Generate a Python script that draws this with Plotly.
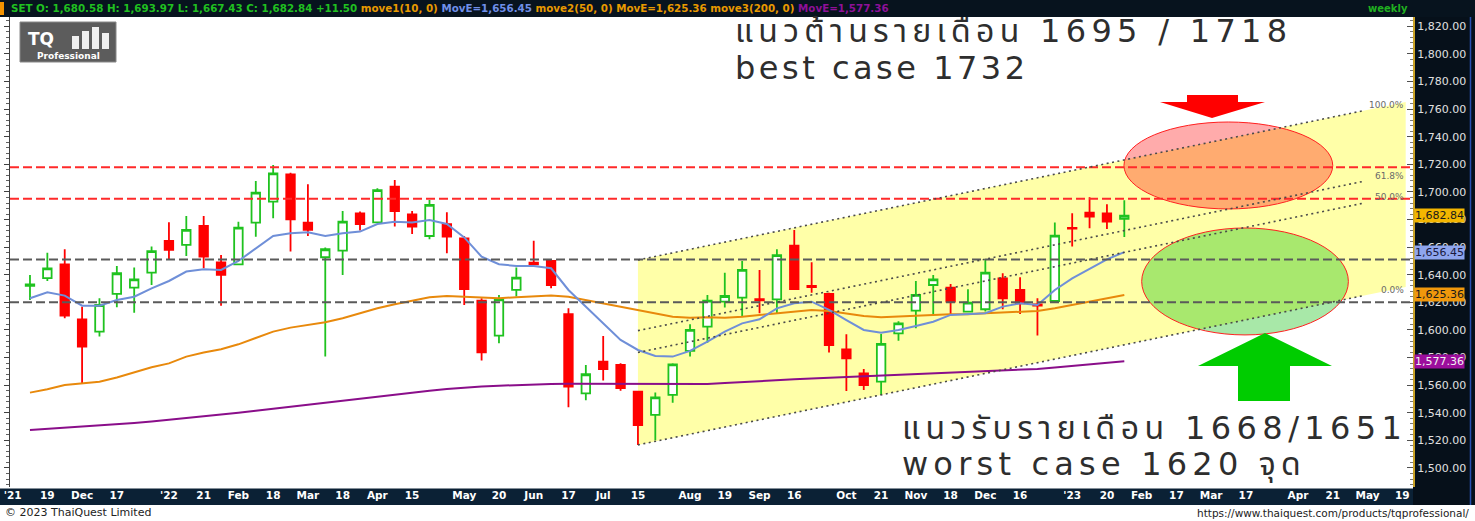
import plotly.graph_objects as go

# ---------------- data (weekly SET index) ----------------
opens = [1632.0, 1637.5, 1647.6, 1607.7, 1598.8, 1626.1, 1630.7, 1641.5, 1664.5, 1661.6,
         1675.4, 1649.0, 1647.6, 1677.8, 1693.0, 1712.8, 1677.8, 1652.7, 1657.5, 1684.5,
         1678.0, 1703.9, 1683.8, 1668.1, 1676.6, 1666.4, 1621.2, 1595.9, 1629.0, 1648.8,
         1650.0, 1611.4, 1554.1, 1577.0, 1574.6, 1555.3, 1538.4, 1552.9, 1584.8, 1602.4,
         1620.5, 1623.4, 1622.3, 1622.2, 1661.1, 1631.9, 1626.1, 1586.0, 1568.6, 1562.5,
         1597.6, 1614.0, 1632.6, 1630.7, 1613.3, 1615.0, 1637.4, 1629.0, 1618.6, 1621.0,
         1674.0, 1685.0, 1684.5, 1680.58]
highs = [1639.9, 1656.0, 1658.5, 1616.9, 1623.0, 1646.4, 1645.2, 1660.4, 1678.0, 1682.6,
         1682.6, 1654.3, 1678.5, 1708.0, 1719.6, 1714.0, 1705.6, 1659.7, 1686.2, 1685.8,
         1702.7, 1708.7, 1686.2, 1694.2, 1685.3, 1668.1, 1623.0, 1625.4, 1645.2, 1664.7,
         1651.2, 1615.7, 1574.6, 1595.7, 1575.8, 1556.0, 1554.6, 1575.8, 1604.1, 1625.4,
         1641.5, 1650.0, 1643.5, 1658.5, 1672.5, 1649.0, 1627.0, 1596.9, 1571.7, 1597.1,
         1606.3, 1635.5, 1639.9, 1633.3, 1629.5, 1651.2, 1641.1, 1638.2, 1623.0, 1677.8,
         1684.5, 1696.1, 1691.1, 1693.97]
lows = [1621.7, 1635.5, 1608.5, 1561.3, 1595.2, 1616.4, 1612.5, 1632.6, 1650.7, 1653.6,
        1644.7, 1617.6, 1647.1, 1667.6, 1680.9, 1656.8, 1668.1, 1580.7, 1639.9, 1672.0,
        1677.5, 1674.9, 1669.6, 1665.7, 1655.6, 1618.1, 1577.8, 1590.4, 1624.2, 1647.1,
        1630.2, 1544.0, 1549.0, 1563.3, 1556.0, 1516.7, 1520.0, 1547.3, 1580.7, 1590.8,
        1616.2, 1610.1, 1612.1, 1612.0, 1629.0, 1627.0, 1583.6, 1555.8, 1556.5, 1552.9,
        1592.2, 1601.2, 1611.4, 1611.6, 1612.6, 1613.3, 1615.0, 1611.6, 1596.0, 1621.0,
        1660.4, 1673.7, 1673.2, 1667.43]
closes = [1633.0, 1644.7, 1610.4, 1587.9, 1618.1, 1641.1, 1636.7, 1657.2, 1658.0, 1672.5,
          1653.1, 1639.9, 1674.1, 1699.5, 1713.5, 1680.2, 1672.5, 1658.5, 1678.5, 1676.8,
          1701.4, 1686.2, 1674.9, 1690.6, 1667.6, 1629.7, 1583.8, 1622.2, 1637.9, 1647.6,
          1632.6, 1558.9, 1567.9, 1571.7, 1557.8, 1531.0, 1551.2, 1575.1, 1600.0, 1621.2,
          1624.6, 1643.5, 1621.5, 1654.3, 1629.7, 1631.0, 1589.1, 1579.5, 1560.1, 1589.9,
          1604.8, 1625.4, 1636.7, 1620.5, 1619.8, 1641.5, 1623.0, 1619.3, 1617.6, 1668.3,
          1673.4, 1682.1, 1678.5, 1682.84]
ma10 = [1623.0, 1627.3, 1624.9, 1617.6, 1617.6, 1621.7, 1624.1, 1630.2, 1635.5, 1642.3,
        1644.0, 1643.5, 1650.0, 1659.2, 1668.1, 1670.1, 1670.8, 1668.1, 1670.1, 1671.3,
        1676.8, 1678.5, 1677.8, 1679.7, 1676.8, 1667.1, 1653.1, 1647.6, 1646.4, 1646.4,
        1644.7, 1629.0, 1616.9, 1604.9, 1592.8, 1585.5, 1581.2, 1580.7, 1584.8, 1591.5,
        1598.8, 1604.8, 1607.7, 1615.7, 1619.3, 1620.5, 1614.5, 1607.2, 1600.0, 1598.0,
        1600.0, 1602.9, 1606.0, 1610.9, 1611.4, 1612.1, 1616.9, 1619.3, 1618.1, 1629.0,
        1637.4, 1644.0, 1651.2, 1656.45]
ma50 = [1554.6, 1557.0, 1560.1, 1561.3, 1562.5, 1565.5, 1569.0, 1573.0, 1575.8, 1580.7,
        1583.6, 1586.0, 1589.6, 1594.4, 1598.8, 1601.7, 1603.6, 1605.6, 1608.5, 1612.1,
        1615.7, 1618.6, 1621.2, 1623.7, 1624.6, 1624.1, 1623.4, 1623.0, 1623.7, 1624.1,
        1624.9, 1624.1, 1621.7, 1619.3, 1616.9, 1614.5, 1611.6, 1609.6, 1608.9, 1609.2,
        1608.9, 1609.6, 1610.9, 1612.1, 1613.8, 1614.5, 1613.8, 1612.1, 1610.1, 1609.2,
        1609.6, 1610.1, 1610.9, 1611.4, 1611.4, 1612.1, 1612.6, 1613.3, 1613.8, 1615.7,
        1618.1, 1620.3, 1622.7, 1625.36]
ma200 = [1527.5, 1528.3, 1529.0, 1529.8, 1530.5, 1531.5, 1532.5, 1533.6, 1534.8, 1536.0,
         1537.5, 1538.8, 1540.0, 1541.5, 1543.0, 1544.5, 1546.0, 1547.2, 1548.5, 1550.0,
         1551.5, 1553.0, 1554.5, 1556.0, 1557.3, 1558.3, 1559.0, 1559.6, 1560.1, 1560.5,
         1560.8, 1561.0, 1561.0, 1560.9, 1560.8, 1560.7, 1560.6, 1560.6, 1560.6, 1560.8,
         1561.5, 1562.3, 1563.0, 1563.6, 1564.2, 1564.8, 1565.3, 1565.8, 1566.3, 1566.8,
         1567.3, 1567.8, 1568.3, 1568.8, 1569.3, 1569.8, 1570.3, 1571.0, 1571.8, 1572.8,
         1574.0, 1575.2, 1576.3, 1577.36]
weeks = list(range(len(closes)))

x_tick_pos = [-1, 1, 3, 5, 8, 10, 12, 14, 16, 18, 20, 22, 25, 27, 29, 31, 33, 35, 38, 40,
              42, 44, 47, 49, 51, 53, 55, 57, 60, 62, 64, 66, 68, 70, 73, 75, 77, 79]
x_tick_text = ["'21", "19", "Dec", "17", "'22", "21", "Feb", "18", "Mar", "18", "Apr", "15",
               "May", "20", "Jun", "17", "Jul", "15", "Aug", "19", "Sep", "16", "Oct", "21",
               "Nov", "18", "Dec", "16", "'23", "20", "Feb", "17", "Mar", "17", "Apr", "21",
               "May", "19"]
y_ticks = list(range(1500, 1821, 20))

resistance_levels = [1718, 1695]
support_levels = [1651, 1620]

channel_x = [35, 79.2]
channel_low = [1516.7, 1631.2]
channel_high = [1650.7, 1765.2]
fib_levels = [0.0, 0.5, 0.618, 1.0]
fib_labels = ["0.0%", "50.0%", "61.8%", "100.0%"]

resist_zone_x = [62.98, 75.0]
resist_zone_y = [1687.7, 1750.7]
support_zone_x = [64.0, 75.9]
support_zone_y = [1596.4, 1673.9]

last_values = [1682.84, 1656.45, 1625.36, 1577.36]
last_bg = ["#F3B600", "#8EA5EE", "#F0980C", "#9C0E9C"]
last_fg = ["#1a1a1a", "#1a1a40", "#1a1a1a", "#f2f2f2"]

X_RANGE = [-1.15, 79.62]
Y_RANGE = [1486.2, 1826.8]

# ---------------- geometry helpers (pixel -> paper) ----------------
W, H = 1475, 521
ML, MR, MT, MB = 10, 62, 17, 34
PW, PH = W - ML - MR, H - MT - MB


def px(x):
    return (x - ML) / PW


def py(y):
    return (H - MB - y) / PH


fig = go.Figure()

fig.add_trace(go.Candlestick(
    x=weeks, open=opens, high=highs, low=lows, close=closes,
    increasing=dict(line=dict(color="#1FC21F", width=1.8), fillcolor="#FFFFFF"),
    decreasing=dict(line=dict(color="#FF0000", width=1.8), fillcolor="#FF0000"),
    hoverinfo="skip", showlegend=False))

for vals, col in [(ma200, "#8A0E8A"), (ma50, "#E8890C"), (ma10, "#6F8FD8")]:
    fig.add_trace(go.Scatter(x=weeks, y=vals, mode="lines",
                             line=dict(color=col, width=2), hoverinfo="skip",
                             showlegend=False))

# dummy trace for the left tick ruler
fig.add_trace(go.Scatter(x=weeks, y=closes, yaxis="y2", mode="lines",
                         line=dict(width=0, color="rgba(0,0,0,0)"), hoverinfo="skip",
                         showlegend=False))

shapes = []
# panels
shapes.append(dict(type="rect", xref="paper", yref="paper", x0=px(0), x1=px(W),
                   y0=py(17), y1=py(0), fillcolor="#07131E", line=dict(width=0), layer="below"))
shapes.append(dict(type="rect", xref="paper", yref="paper", x0=px(0), x1=px(1413),
                   y0=py(505), y1=py(488.5), fillcolor="#0B2135", line=dict(width=0), layer="below"))
shapes.append(dict(type="rect", xref="paper", yref="paper", x0=1, x1=px(W),
                   y0=py(505), y1=py(17), fillcolor="#06101A", line=dict(width=0), layer="below"))
shapes.append(dict(type="line", xref="paper", yref="paper", x0=px(1470.5), x1=px(1470.5),
                   y0=py(505), y1=py(17), line=dict(color="#2850B0", width=1.5)))
shapes.append(dict(type="rect", xref="paper", yref="paper", x0=px(0), x1=px(4),
                   y0=py(15), y1=py(2), fillcolor="#F39200", line=dict(width=0)))

# yellow channel
cx0, cx1 = channel_x
shapes.append(dict(type="path", xref="x", yref="y",
                   path=f"M {cx0},{channel_low[0]} L {cx1},{channel_low[1]} L {cx1},{channel_high[1]} L {cx0},{channel_high[0]} Z",
                   fillcolor="#FFFFA8", line=dict(width=0), layer="below"))

# zones
shapes.append(dict(type="circle", xref="x", yref="y", x0=resist_zone_x[0], x1=resist_zone_x[1],
                   y0=resist_zone_y[0], y1=resist_zone_y[1], fillcolor="rgba(255,0,0,0.33)",
                   line=dict(color="#FF2020", width=1)))
shapes.append(dict(type="circle", xref="x", yref="y", x0=support_zone_x[0], x1=support_zone_x[1],
                   y0=support_zone_y[0], y1=support_zone_y[1], fillcolor="rgba(0,187,0,0.34)",
                   line=dict(color="#FF2020", width=1)))

# horizontal levels
for lv in resistance_levels:
    shapes.append(dict(type="line", xref="paper", yref="y", x0=0, x1=1, y0=lv, y1=lv,
                       line=dict(color="#FF2A2A", width=2, dash="9px,4px")))
for lv in support_levels:
    shapes.append(dict(type="line", xref="paper", yref="y", x0=0, x1=1, y0=lv, y1=lv,
                       line=dict(color="#5A5A5A", width=2, dash="9px,4px")))

# fib channel lines
annotations = []
for lev, lab in zip(fib_levels, fib_labels):
    y0 = channel_low[0] + lev * (channel_high[0] - channel_low[0])
    y1 = channel_low[1] + lev * (channel_high[1] - channel_low[1])
    shapes.append(dict(type="line", xref="x", yref="y", x0=cx0, x1=cx1 - 2.4, y0=y0,
                       y1=y1 - 2.4 * (y1 - y0) / (cx1 - cx0),
                       line=dict(color="#4A4A4A", width=1.6, dash="2px,3.5px")))
    annotations.append(dict(xref="x", yref="y", x=cx1, y=y1 - 0.8 * (y1 - y0) / (cx1 - cx0),
                            text=lab, showarrow=False, xanchor="right", yanchor="middle",
                            font=dict(family="DejaVu Sans", size=9, color="#6A6A6A")))


# arrows (decoration, pixel based)
def poly(points):
    return "M " + " L ".join(f"{px(a):.5f},{py(b):.5f}" for a, b in points) + " Z"


shapes.append(dict(type="path", xref="paper", yref="paper",
                   path=poly([(1187, 95), (1238, 95), (1238, 102), (1265, 102), (1212, 118),
                              (1160, 102), (1187, 102)]),
                   fillcolor="#FF0000", line=dict(width=0)))
shapes.append(dict(type="path", xref="paper", yref="paper",
                   path=poly([(1265, 333), (1332, 366), (1290, 366), (1290, 401), (1238, 401),
                              (1238, 366), (1198, 366)]),
                   fillcolor="#00CC00", line=dict(width=0)))

# logo
shapes.append(dict(type="rect", xref="paper", yref="paper", x0=px(20), x1=px(116),
                   y0=py(62), y1=py(22), fillcolor="#5C5C5C", line=dict(color="#888", width=1)))
for (bx0, bx1, btop) in [(72, 79, 36), (82, 89, 31), (92, 99, 27), (102, 109, 33)]:
    shapes.append(dict(type="rect", xref="paper", yref="paper", x0=px(bx0), x1=px(bx1),
                       y0=py(49), y1=py(btop), fillcolor="#F0F0F0", line=dict(width=0)))
annotations.append(dict(xref="paper", yref="paper", x=px(26), y=py(39), text="<b>TQ</b>",
                        showarrow=False, xanchor="left", yanchor="middle",
                        font=dict(family="DejaVu Sans", size=17, color="#FFFFFF")))
annotations.append(dict(xref="paper", yref="paper", x=px(68), y=py(56), text="<b>Professional</b>",
                        showarrow=False, xanchor="center", yanchor="middle",
                        font=dict(family="DejaVu Sans", size=9, color="#FFFFFF")))

# header
hdr = ('<span style="color:#20C020">SET O: 1,680.58 H: 1,693.97 L: 1,667.43 C: 1,682.84 +11.50</span> '
       '<span style="color:#E89A00">move1(10, 0)</span> '
       '<span style="color:#6F8FE8">MovE=1,656.45</span> '
       '<span style="color:#E89A00">move2(50, 0) MovE=1,625.36 move3(200, 0)</span> '
       '<span style="color:#8E1098">MovE=1,577.36</span>')
annotations.append(dict(xref="paper", yref="paper", x=px(9), y=py(8.5), text=hdr,
                        showarrow=False, xanchor="left", yanchor="middle",
                        font=dict(family="DejaVu Sans", size=10.3, weight="bold", color="#20C020")))
annotations.append(dict(xref="paper", yref="paper", x=px(1410), y=py(8.5), text="weekly",
                        showarrow=False, xanchor="right", yanchor="middle",
                        font=dict(family="DejaVu Sans", size=10, weight="bold", color="#20B020")))

# big texts
thai_font = "'DejaVu Sans', Tahoma, 'Noto Sans Thai', sans-serif"
for txt, xl, yc, sp in [("แนวต้านรายเดือน 1695 / 1718", 733, 31, 5.3),
                        ("best case 1732", 733, 68, 3.5),
                        ("แนวรับรายเดือน 1668/1651", 900, 428, 5.4),
                        ("worst case 1620 จุด", 900, 464, 5.2)]:
    annotations.append(dict(xref="paper", yref="paper", x=px(xl), y=py(yc),
                            text=f'<span style="letter-spacing:{sp}px">{txt}</span>',
                            showarrow=False, xanchor="left", yanchor="middle",
                            font=dict(family=thai_font, size=32, color="#2E2E2E")))

# last value tags
for v, bg, fg in zip(last_values, last_bg, last_fg):
    annotations.append(dict(xref="paper", yref="y", x=px(1414), y=v, text=f"{v:,.2f}",
                            showarrow=False, xanchor="left", yanchor="middle", bgcolor=bg,
                            borderpad=0, font=dict(family="DejaVu Sans", size=11, color=fg)))

# footer
annotations.append(dict(xref="paper", yref="paper", x=px(3), y=py(512.5),
                        text="© 2023 ThaiQuest Limited", showarrow=False, xanchor="left",
                        yanchor="middle", font=dict(family="DejaVu Sans", size=11, color="#222")))
annotations.append(dict(xref="paper", yref="paper", x=px(1471), y=py(513),
                        text="https://www.thaiquest.com/products/tqprofessional/", showarrow=False,
                        xanchor="right", yanchor="middle",
                        font=dict(family="DejaVu Sans", size=10.5, color="#222")))

fig.update_layout(
    width=W, height=H,
    margin=dict(l=ML, r=MR, t=MT, b=MB, pad=0, autoexpand=False),
    paper_bgcolor="#FFFFFF", plot_bgcolor="#FFFFFF",
    showlegend=False, hovermode=False,
    shapes=shapes, annotations=annotations,
    xaxis=dict(range=X_RANGE, rangeslider=dict(visible=False), showgrid=False, zeroline=False,
               automargin=False,
               tickmode="array", tickvals=x_tick_pos, ticktext=x_tick_text,
               tickfont=dict(family="DejaVu Sans", size=10.5, weight="bold", color="#FFFFFF"),
               ticks="", showline=False),
    yaxis=dict(range=Y_RANGE, side="right", showgrid=False, zeroline=False, automargin=False,
               tickmode="array", tickvals=y_ticks, ticktext=[f"{v:,.2f}" for v in y_ticks],
               tickfont=dict(family="DejaVu Sans", size=11, color="#E0E0E0"),
               ticks="inside", ticklen=6, tickcolor="#505050", tickwidth=1,
               minor=dict(ticks="inside", ticklen=3, dtick=4, tickcolor="#7A7A7A"),
               showline=True, linecolor="#C9A227", linewidth=2),
    yaxis2=dict(range=Y_RANGE, overlaying="y", side="left", anchor="x", showgrid=False,
                zeroline=False, showticklabels=False, ticks="outside", ticklen=5,
                automargin=False,
                tickcolor="#404040", dtick=20, tick0=1500,
                minor=dict(ticks="outside", ticklen=3, dtick=4, tickcolor="#606060"),
                showline=True, linecolor="#404040", linewidth=1),
)

fig.write_html("out.html", config={"displayModeBar": False},
               post_script="document.body.style.margin='0px';document.body.style.padding='0px';")
